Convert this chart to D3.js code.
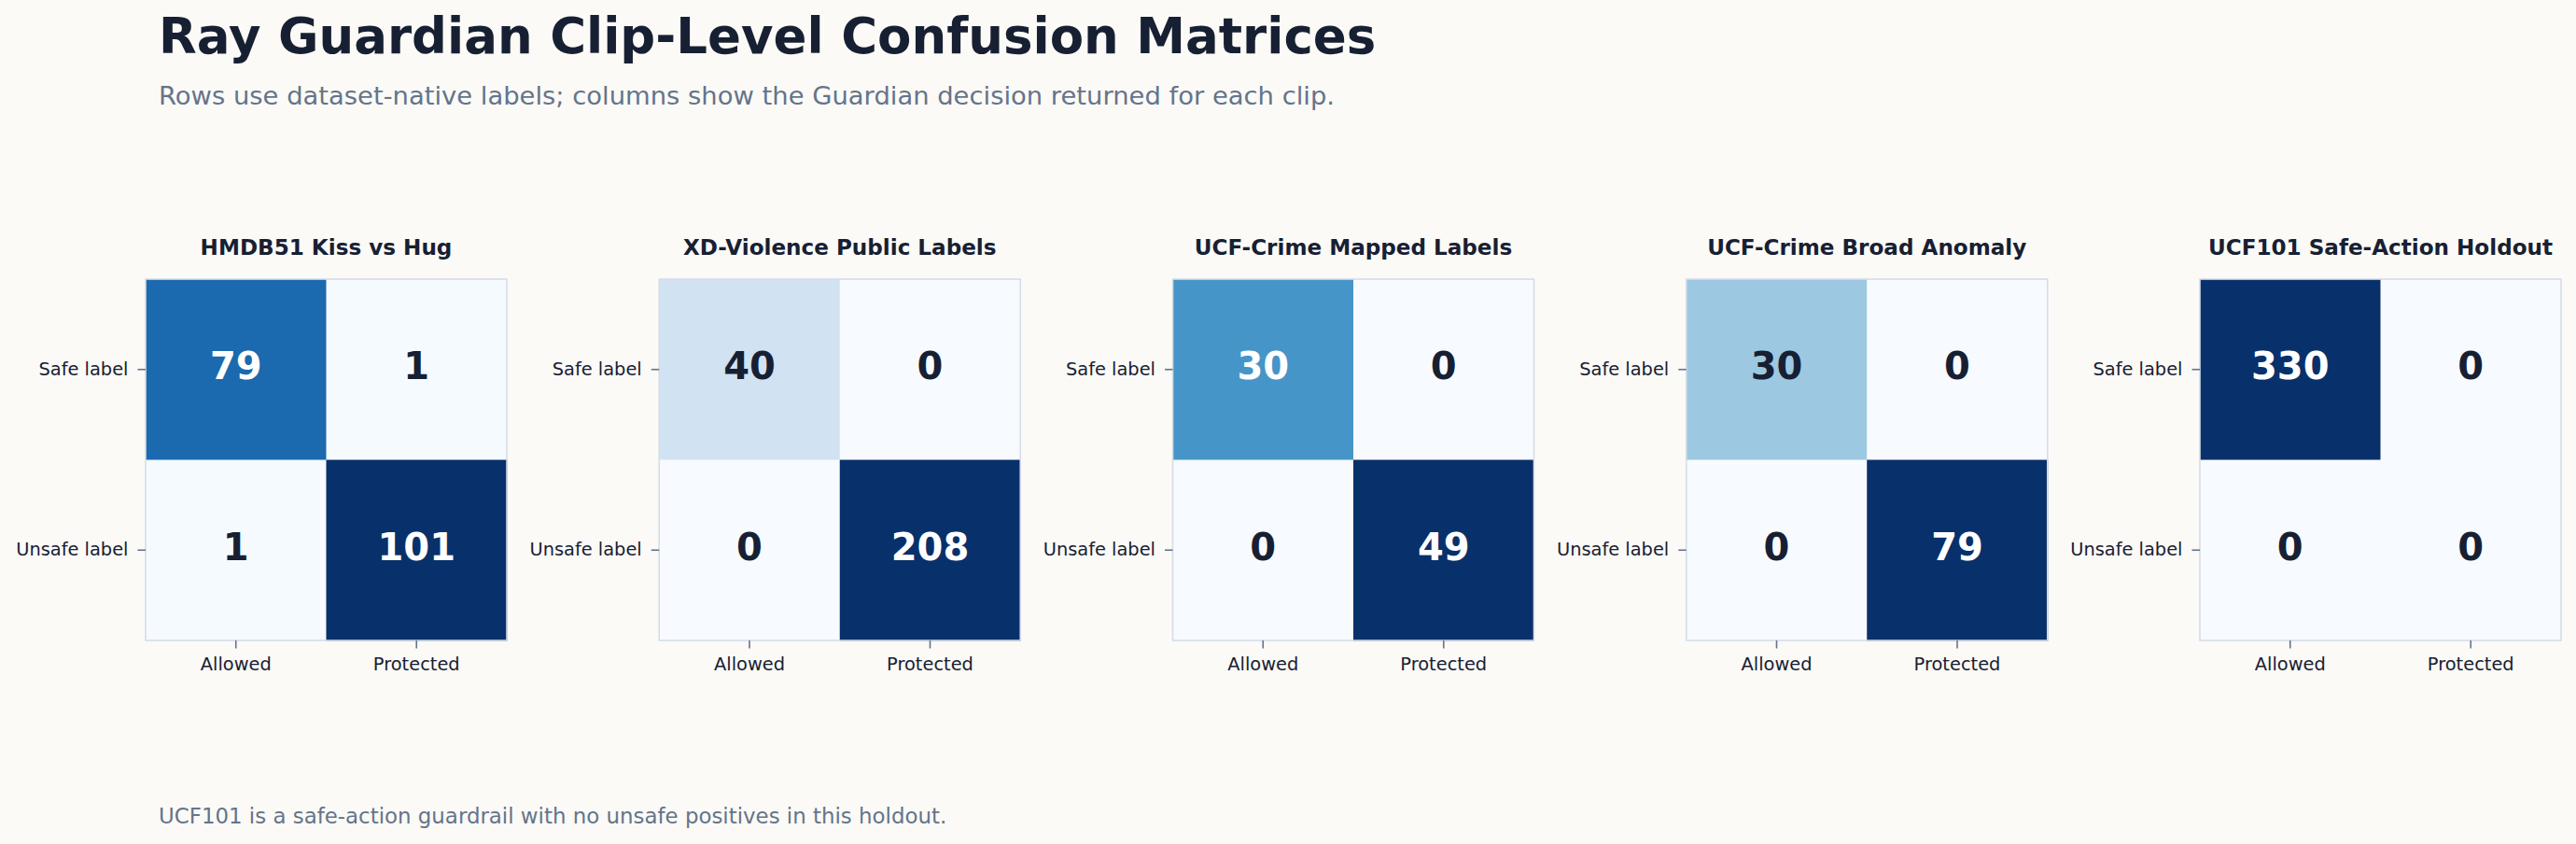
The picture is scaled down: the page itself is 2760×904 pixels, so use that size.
<!DOCTYPE html>
<html>
<head>
<meta charset="utf-8">
<script src="https://cdn.jsdelivr.net/npm/d3@7"></script>
<style>
  html, body { margin: 0; padding: 0; background: #fbfaf6; }
  svg { display: block; font-family: "DejaVu Sans", sans-serif; }
</style>
</head>
<body>
<svg id="chart" width="2760" height="904"></svg>
<script>
const panelTitles = ["HMDB51 Kiss vs Hug", "XD-Violence Public Labels", "UCF-Crime Mapped Labels",
  "UCF-Crime Broad Anomaly", "UCF101 Safe-Action Holdout"]
const rowLabels = ["Safe label", "Unsafe label"]
const colLabels = ["Allowed", "Protected"]
const safeAllowed = [79, 40, 30, 30, 330]
const safeProtected = [1, 0, 0, 0, 0]
const unsafeAllowed = [1, 0, 0, 0, 0]
const unsafeProtected = [101, 208, 49, 79, 0]

const width = 2760, height = 904
const dark = "#172033", muted = "#64748b"

const svg = d3.select('#chart')

svg.append('text')
    .attr('x', 170).attr('y', 57)
    .attr('font-size', 53).attr('font-weight', 'bold')
    .attr('fill', dark)
    .text("Ray Guardian Clip-Level Confusion Matrices")

svg.append('text')
    .attr('x', 170).attr('y', 112)
    .attr('font-size', 27.4)
    .attr('fill', muted)
    .text("Rows use dataset-native labels; columns show the Guardian decision returned for each clip.")

svg.append('text')
    .attr('x', 170).attr('y', 882)
    .attr('font-size', 22.9)
    .attr('fill', muted)
    .text("UCF101 is a safe-action guardrail with no unsafe positives in this holdout.")

// matplotlib style Blues: linear through the 9 brewer colours
const blues = d3.scaleLinear()
    .domain(d3.range(9).map(i => i / 8))
    .range(d3.schemeBlues[9])
    .clamp(true)

const panelX = d3.scaleBand()
    .domain(panelTitles)
    .range([156, 2744])
    .paddingInner(0.2967)

const size = panelX.bandwidth()
const matTop = 299

panelTitles.forEach((name, i) => {
    const cells = [
        {row: rowLabels[0], col: colLabels[0], v: safeAllowed[i]},
        {row: rowLabels[0], col: colLabels[1], v: safeProtected[i]},
        {row: rowLabels[1], col: colLabels[0], v: unsafeAllowed[i]},
        {row: rowLabels[1], col: colLabels[1], v: unsafeProtected[i]}
    ]
    const vmax = d3.max(cells, d => d.v) || 1

    const x = d3.scaleBand().domain(colLabels).range([0, size])
    const y = d3.scaleBand().domain(rowLabels).range([0, size])

    const g = svg.append('g')
        .attr('transform', `translate(${panelX(name)}, ${matTop})`)

    g.append('text')
        .attr('x', size / 2).attr('y', -26.5)
        .attr('text-anchor', 'middle')
        .attr('font-size', 23.1).attr('font-weight', 'bold')
        .attr('fill', dark)
        .text(name)

    g.selectAll('rect.cell')
        .data(cells)
        .join('rect')
        .attr('class', 'cell')
        .attr('x', d => x(d.col))
        .attr('y', d => y(d.row))
        .attr('width', x.bandwidth() + 0.5)
        .attr('height', y.bandwidth() + 0.5)
        .attr('fill', d => blues(d.v / vmax))

    g.selectAll('text.val')
        .data(cells)
        .join('text')
        .attr('class', 'val')
        .attr('x', d => x(d.col) + x.bandwidth() / 2)
        .attr('y', d => y(d.row) + y.bandwidth() / 2 + 10.5)
        .attr('text-anchor', 'middle')
        .attr('font-size', 40).attr('font-weight', 'bold')
        .attr('fill', d => d.v / vmax > 0.55 ? '#ffffff' : dark)
        .text(d => d.v)

    g.append('rect')
        .attr('width', size).attr('height', size)
        .attr('fill', 'none')
        .attr('stroke', '#d5dde8')
        .attr('stroke-width', 1.6)

    const xAxis = g.append('g')
        .attr('transform', `translate(0, ${size})`)
        .call(d3.axisBottom(x).tickSize(8.5).tickPadding(10))
    const yAxis = g.append('g')
        .call(d3.axisLeft(y).tickSize(8.5).tickPadding(10))

    for (const ax of [xAxis, yAxis]) {
        ax.select('.domain').remove()
        ax.selectAll('.tick line').attr('stroke', muted).attr('stroke-width', 1.6)
        ax.selectAll('.tick text')
            .attr('fill', dark)
            .attr('font-size', 19.4)
            .attr('font-family', '"DejaVu Sans", sans-serif')
    }
    xAxis.selectAll('.tick text').attr('dy', '0.71em')
})
</script>
</body>
</html>
